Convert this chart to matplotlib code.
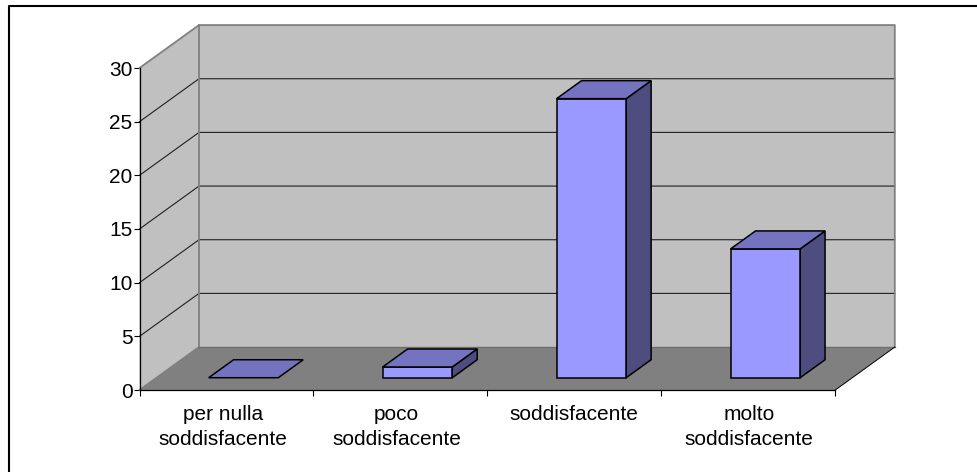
#!/usr/bin/env python3
"""
Soddisfazione: old-style 3D column chart, drawn with 2D polygons.
"""

import matplotlib
matplotlib.use('Agg')
import matplotlib.pyplot as plt
from matplotlib.lines import Line2D
from matplotlib.patches import Polygon
from matplotlib.transforms import ScaledTranslation

# Data
categories = ['per nulla\nsoddisfacente', 'poco\nsoddisfacente',
              'soddisfacente', 'molto\nsoddisfacente']
values = [0, 1, 26, 12]
y_ticks = [0, 5, 10, 15, 20, 25, 30]

# Colours
FRONT = '#9999FF'
TOP = '#7373BF'
SIDE = '#4D4D80'
WALL = '#C0C0C0'
FLOOR = '#808080'

# Projection of the depth axis, in data units
DEPTH_X = 0.342
DEPTH_Y = 4.0
BAR_WIDTH = 0.4
BAR_D0 = 0.286
BAR_D1 = 0.705

W, H = 977, 472
plt.rcParams['font.family'] = ['Liberation Sans', 'DejaVu Sans']

fig = plt.figure(figsize=(W / 100, H / 100), dpi=100)
ax = fig.add_axes([139.5 / W, 1 - 390 / H, 695.8 / W, 322 / H])
ax.set_xlim(0, len(categories))
ax.set_ylim(0, y_ticks[-1])


def pt(x, v, d):
    return (x + d * DEPTH_X, v + d * DEPTH_Y)


def poly(points, face, edge='black', lw=1.1, z=2):
    ax.add_patch(Polygon(points, closed=True, facecolor=face, edgecolor=edge,
                         linewidth=lw, joinstyle='miter', clip_on=False, zorder=z))


n = len(categories)
top = y_ticks[-1]

# Walls and floor
poly([pt(0, 0, 0), pt(0, 0, 1), pt(0, top, 1), pt(0, top, 0)], WALL, edge='none', z=1)
poly([pt(0, 0, 1), pt(n, 0, 1), pt(n, top, 1), pt(0, top, 1)], WALL, edge='none', z=1)
poly([pt(0, 0, 0), pt(n, 0, 0), pt(n, 0, 1), pt(0, 0, 1)], FLOOR, edge='none', z=1)

# Gridlines run along the left wall then along the back wall
for v in y_ticks[1:-1]:
    xs, ys = zip(pt(0, v, 0), pt(0, v, 1), pt(n, v, 1))
    ax.plot(xs, ys, color='#202020', lw=0.8, clip_on=False, zorder=1.5)

# Wall outlines
xs, ys = zip(pt(0, top, 0), pt(0, top, 1), pt(n, top, 1), pt(n, 0, 1))
ax.plot(xs, ys, color=FLOOR, lw=1.3, clip_on=False, zorder=1.6)
xs, ys = zip(pt(0, 0, 0), pt(0, 0, 1), pt(0, top, 1))
ax.plot(xs, ys, color=FLOOR, lw=1.3, clip_on=False, zorder=1.6)
xs, ys = zip(pt(0, 0, 1), pt(n, 0, 1))
ax.plot(xs, ys, color='#6E6E6E', lw=1.0, clip_on=False, zorder=1.6)
xs, ys = zip(pt(n, 0, 0), pt(n, 0, 1))
ax.plot(xs, ys, color='black', lw=0.7, clip_on=False, zorder=1.6)

# Columns
for i, val in enumerate(values):
    x0 = i + (1 - BAR_WIDTH) / 2
    x1 = x0 + BAR_WIDTH
    if val > 0:
        poly([pt(x1, 0, BAR_D0), pt(x1, 0, BAR_D1), pt(x1, val, BAR_D1), pt(x1, val, BAR_D0)], SIDE)
        poly([pt(x0, 0, BAR_D0), pt(x1, 0, BAR_D0), pt(x1, val, BAR_D0), pt(x0, val, BAR_D0)], FRONT)
    poly([pt(x0, val, BAR_D0), pt(x1, val, BAR_D0), pt(x1, val, BAR_D1), pt(x0, val, BAR_D1)], TOP)

# Axes
for side in ['top', 'right']:
    ax.spines[side].set_visible(False)
for side in ['left', 'bottom']:
    ax.spines[side].set_linewidth(0.9)
    ax.spines[side].set_zorder(3)
ax.patch.set_visible(False)

ax.set_yticks(y_ticks)
ax.tick_params(axis='y', length=4, width=0.8, pad=1, labelsize=15)
ax.set_xticks(range(n + 1))
ax.set_xticklabels([])
ax.tick_params(axis='x', which='major', length=4, width=0.8)
ax.set_xticks([i + 0.5 for i in range(n)], categories, minor=True)
ax.tick_params(axis='x', which='minor', length=0, pad=10.7, labelsize=15)

# First two labels sit slightly left of their category centres
for lab, nudge in zip(ax.get_xticklabels(minor=True), [-3.7, -3.9, 0, 0.5]):
    lab.set_transform(lab.get_transform() + ScaledTranslation(nudge / 100, 0, fig.dpi_scale_trans))
    lab.set_linespacing(1.42)

# Frame of the original screenshot: top and left edges only
fig.add_artist(Line2D([8.5 / W, 8.5 / W, 1], [0, 1 - 6 / H, 1 - 6 / H], color='black', lw=1.5))

fig.savefig('out.png', dpi=100, facecolor='white')
plt.close(fig)
